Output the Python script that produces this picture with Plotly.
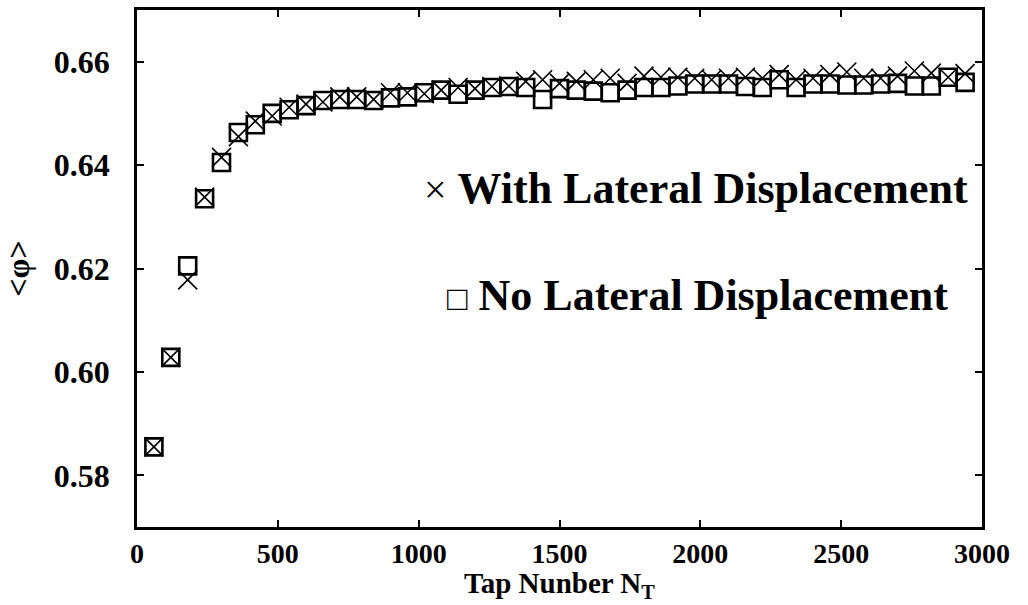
import plotly.graph_objects as go

tap_number = [60 * k for k in range(1, 50)]

phi_no_lateral = [
    0.5855, 0.6028, 0.6205, 0.6335, 0.6405, 0.6463, 0.6478, 0.6500, 0.6507, 0.6515,
    0.6525, 0.6527, 0.6527, 0.6525, 0.6530, 0.6532, 0.6540, 0.6545, 0.6537, 0.6545,
    0.6550, 0.6552, 0.6550, 0.6527, 0.6548, 0.6545, 0.6543, 0.6540, 0.6545, 0.6550,
    0.6550, 0.6553, 0.6557, 0.6557, 0.6557, 0.6552, 0.6550, 0.6565, 0.6550, 0.6557,
    0.6557, 0.6555, 0.6555, 0.6557, 0.6558, 0.6553, 0.6553, 0.6570, 0.6560,
]

phi_with_lateral = [
    0.5855, 0.6028, 0.6178, 0.6338, 0.6415, 0.6455, 0.6485, 0.6495, 0.6512, 0.6518,
    0.6522, 0.6532, 0.6532, 0.6527, 0.6540, 0.6540, 0.6538, 0.6545, 0.6550, 0.6548,
    0.6552, 0.6553, 0.6562, 0.6565, 0.6558, 0.6562, 0.6565, 0.6568, 0.6558, 0.6572,
    0.6570, 0.6570, 0.6568, 0.6565, 0.6568, 0.6570, 0.6568, 0.6575, 0.6565, 0.6568,
    0.6575, 0.6580, 0.6568, 0.6568, 0.6572, 0.6582, 0.6578, 0.6570, 0.6577,
]

x_ticks = [0, 500, 1000, 1500, 2000, 2500, 3000]
y_ticks = [0.58, 0.60, 0.62, 0.64, 0.66]
y_tick_labels = ["0.58", "0.60", "0.62", "0.64", "0.66"]

x_title = "Tap Nunber N<sub>T</sub>"
y_title = "&lt;φ&gt;"

legend_with_symbol = "×"
legend_with_text = "With Lateral Displacement"
legend_no_symbol = "□"
legend_no_text = "No Lateral Displacement"

serif = "Liberation Serif, Times New Roman, serif"

fig = go.Figure()
fig.add_trace(go.Scatter(
    x=tap_number, y=phi_no_lateral, mode="markers", showlegend=False,
    marker=dict(symbol="square-open", size=17, color="black",
                line=dict(color="black", width=2.6)),
))
fig.add_trace(go.Scatter(
    x=tap_number, y=phi_with_lateral, mode="markers", showlegend=False,
    marker=dict(symbol="x-thin-open", size=19, color="black",
                line=dict(color="black", width=1.6)),
))

fig.add_annotation(
    x=0.986, y=0.655, xref="paper", yref="paper", xanchor="right", yanchor="middle",
    text=f'<span style="font-size:40px">{legend_with_symbol}</span> <b>{legend_with_text}</b>',
    showarrow=False, font=dict(family=serif, size=44, color="black"),
)
fig.add_annotation(
    x=0.962, y=0.447, xref="paper", yref="paper", xanchor="right", yanchor="middle",
    text=f'<span style="font-size:34px">{legend_no_symbol}</span> <b>{legend_no_text}</b>',
    showarrow=False, font=dict(family=serif, size=44, color="black"),
)
fig.add_annotation(
    x=0.5, y=-0.148, xref="paper", yref="paper", xanchor="center", yanchor="bottom",
    text=f"<b>{x_title}</b>", showarrow=False, borderpad=0,
    font=dict(family=serif, size=29, color="black"),
)

fig.update_layout(
    width=1028, height=605,
    margin=dict(l=137, r=46, t=7, b=78),
    paper_bgcolor="white", plot_bgcolor="white",
    font=dict(family=serif, color="black"),
)
fig.update_xaxes(
    range=[0, 3000], tickvals=x_ticks, ticktext=[f"<b>{v}</b>" for v in x_ticks],
    ticks="inside", ticklen=7, tickwidth=2, tickcolor="black",
    showline=True, linecolor="black", linewidth=2.5, mirror="ticks",
    showgrid=False, zeroline=False,
    tickfont=dict(family=serif, size=28, color="black"),
    ticklabelstandoff=0,
)
fig.update_yaxes(
    range=[0.570, 0.670], tickvals=y_ticks, ticktext=[f"<b>{t}</b>" for t in y_tick_labels],
    ticks="inside", ticklen=7, tickwidth=2, tickcolor="black",
    showline=True, linecolor="black", linewidth=2.5, mirror="ticks",
    showgrid=False, zeroline=False,
    tickfont=dict(family=serif, size=32, color="black"),
    ticklabelstandoff=18,
    title=dict(text=f"<b>{y_title}</b>", standoff=18,
               font=dict(family=serif, size=32, color="black")),
)

fig.write_html("out.html")
